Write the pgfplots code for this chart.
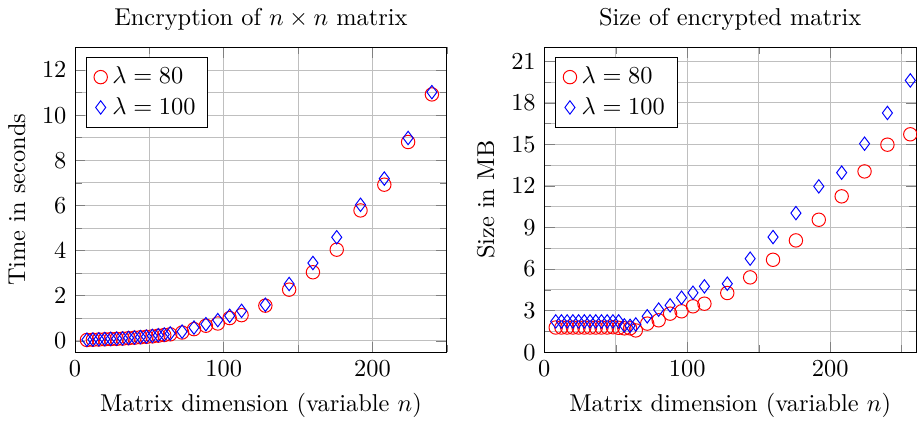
\documentclass[border=0pt]{standalone}
\usepackage{pgfplots}
\pgfplotsset{compat=1.18}

\pgfplotsset{
  encplot/.style={
    scale only axis,
    width=152.5pt, height=125pt,
    xmin=0,
    xtick={0,100,200}, minor xtick={50,150,250},
    grid=both,
    major grid style={black!25},
    minor grid style={black!25},
    title style={yshift=-2.5pt},
    xlabel={Matrix dimension (variable $n$)},
    legend pos=north west,
    legend cell align=left,
  },
  lam80/.style={only marks, mark=o, red, mark size=2.75pt},
  lam100/.style={only marks, mark=diamond, blue, mark size=2.75pt},
}

\begin{document}
\begin{tikzpicture}
  \begin{axis}[
    encplot,
    xmax=250, ymin=-0.5, ymax=13,
    ytick={0,2,...,12}, minor ytick={1,3,...,13},
    title={Encryption of $n \times n$ matrix},
    ylabel={Time in seconds},
    ]
    \addplot[lam80] table {
      x   y
      8   0.04
      12  0.05
      16  0.06
      20  0.07
      24  0.08
      28  0.09
      32  0.10
      36  0.12
      40  0.14
      44  0.16
      48  0.18
      52  0.20
      56  0.23
      60  0.26
      64  0.29
      72  0.37
      80  0.52
      88  0.67
      96  0.77
      104 1.01
      112 1.14
      128 1.56
      144 2.27
      160 3.04
      176 4.04
      192 5.78
      208 6.92
      224 8.81
      240 10.92
    };
    \addplot[lam100] table {
      x   y
      8   0.05
      12  0.06
      16  0.07
      20  0.08
      24  0.09
      28  0.10
      32  0.11
      36  0.13
      40  0.15
      44  0.17
      48  0.19
      52  0.22
      56  0.25
      60  0.28
      64  0.33
      72  0.41
      80  0.59
      88  0.74
      96  0.92
      104 1.11
      112 1.33
      128 1.60
      144 2.52
      160 3.45
      176 4.59
      192 6.03
      208 7.19
      224 8.99
      240 11.02
    };
    \legend{$\lambda=80$, $\lambda=100$}
  \end{axis}

  \begin{axis}[
    encplot,
    xshift=192.5pt,
    xmax=260, ymin=0, ymax=22,
    ytick={0,3,...,21}, minor ytick={1.5,4.5,...,22.5},
    title={Size of encrypted matrix},
    ylabel={Size in MB},
    ]
    \addplot[lam80] table {
      x   y
      8   1.78
      12  1.78
      16  1.78
      20  1.78
      24  1.78
      28  1.78
      32  1.78
      36  1.78
      40  1.78
      44  1.78
      48  1.80
      52  1.76
      56  1.72
      60  1.72
      64  1.57
      72  2.06
      80  2.30
      88  2.78
      96  2.95
      104 3.31
      112 3.50
      128 4.27
      144 5.40
      160 6.67
      176 8.07
      192 9.56
      208 11.25
      224 13.05
      240 14.98
      256 15.73
    };
    \addplot[lam100] table {
      x   y
      8   2.22
      12  2.22
      16  2.22
      20  2.22
      24  2.22
      28  2.22
      32  2.22
      36  2.22
      40  2.22
      44  2.22
      48  2.22
      52  2.22
      56  1.93
      60  1.90
      64  2.00
      72  2.59
      80  3.07
      88  3.38
      96  3.93
      104 4.29
      112 4.75
      128 4.94
      144 6.75
      160 8.31
      176 10.04
      192 11.97
      208 12.96
      224 15.05
      240 17.27
      256 19.62
    };
    \legend{$\lambda=80$, $\lambda=100$}
  \end{axis}
  \path (current bounding box.south) ++(0,-3pt);
\end{tikzpicture}
\end{document}
